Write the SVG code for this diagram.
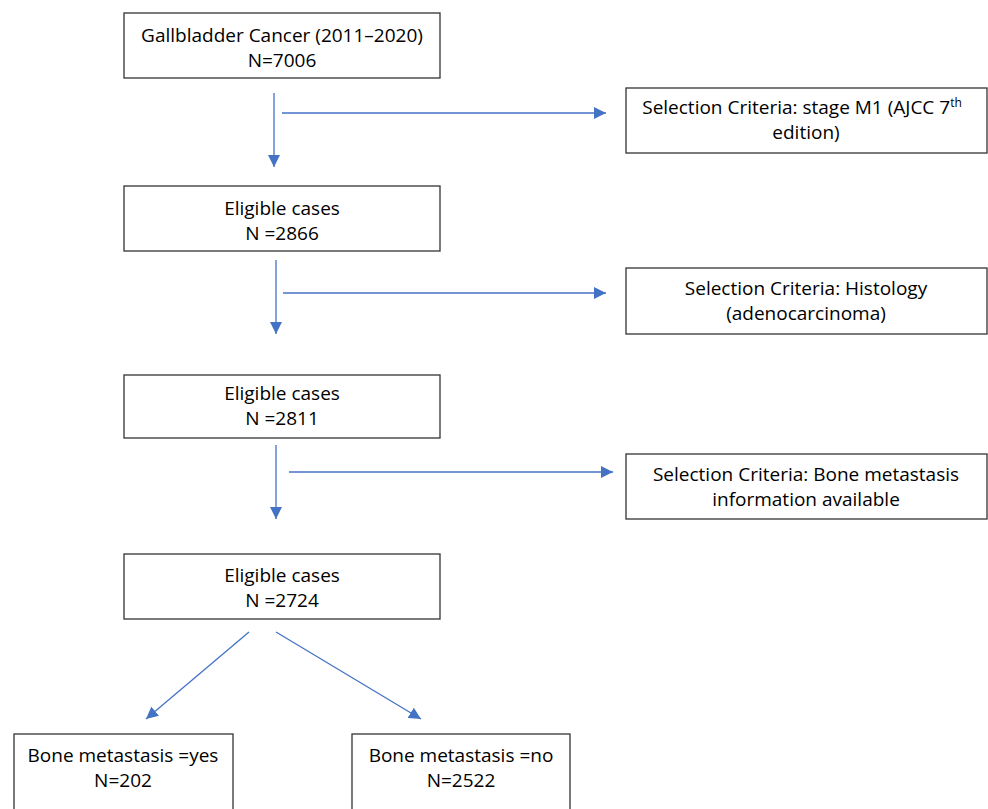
<svg xmlns="http://www.w3.org/2000/svg" width="988" height="809" viewBox="0 0 988 809">
<style>
.box{fill:#fff;stroke:#333;stroke-width:1.3}
.t{font-family:"Open Sans","Liberation Sans",Arial,sans-serif;font-size:19px;fill:#000;text-anchor:middle}
.c{stroke:#4472C4;stroke-width:1.3;fill:none;marker-end:url(#ah)}
</style>
<defs>
<marker id="ah" markerUnits="userSpaceOnUse" markerWidth="12" markerHeight="12" viewBox="0 0 12 12" refX="12" refY="6" orient="auto">
<path d="M0,0 L12,6 L0,12 Z" fill="#4472C4"/>
</marker>
</defs>
<rect width="988" height="809" fill="#fff"/>
<g id="connectors">
<line class="c" x1="274" y1="93" x2="274" y2="167"/>
<line class="c" x1="282" y1="113" x2="606" y2="113"/>
<line class="c" x1="276" y1="260" x2="276" y2="334"/>
<line class="c" x1="283" y1="293" x2="606" y2="293"/>
<line class="c" x1="276" y1="445" x2="276" y2="519"/>
<line class="c" x1="289" y1="472" x2="613" y2="472"/>
<line class="c" x1="249" y1="632" x2="146" y2="719"/>
<line class="c" x1="276" y1="632" x2="421" y2="719"/>
</g>
<g id="n1"><rect class="box" x="124" y="13" width="316" height="65"/>
<text class="t" x="282" y="42">Gallbladder Cancer (2011–2020)</text><text class="t" x="282" y="67">N=7006</text></g>
<g id="n2"><rect class="box" x="124" y="186" width="316" height="65"/>
<text class="t" x="282" y="215">Eligible cases</text><text class="t" x="282" y="240">N =2866</text></g>
<g id="n3"><rect class="box" x="124" y="375" width="316" height="63"/>
<text class="t" x="282" y="400">Eligible cases</text><text class="t" x="282" y="425">N =2811</text></g>
<g id="n4"><rect class="box" x="124" y="554" width="316" height="65"/>
<text class="t" x="282" y="582">Eligible cases</text><text class="t" x="282" y="607">N =2724</text></g>
<g id="s1"><rect class="box" x="626" y="88" width="361" height="65"/>
<text class="t" x="802" y="114">Selection Criteria: stage M1 (AJCC 7<tspan font-size="12" dy="-7">th</tspan></text><text class="t" x="806" y="139">edition)</text></g>
<g id="s2"><rect class="box" x="626" y="268" width="361" height="66"/>
<text class="t" x="806" y="295">Selection Criteria: Histology</text><text class="t" x="806" y="320">(adenocarcinoma)</text></g>
<g id="s3"><rect class="box" x="626" y="454" width="361" height="65"/>
<text class="t" x="806" y="481">Selection Criteria: Bone metastasis</text><text class="t" x="806" y="506">information available</text></g>
<g id="b1"><rect class="box" x="14" y="734" width="219" height="90"/>
<text class="t" x="123" y="762">Bone metastasis =yes</text><text class="t" x="123" y="787">N=202</text></g>
<g id="b2"><rect class="box" x="352" y="734" width="218" height="90"/>
<text class="t" x="461" y="762">Bone metastasis =no</text><text class="t" x="461" y="787">N=2522</text></g>
</svg>
